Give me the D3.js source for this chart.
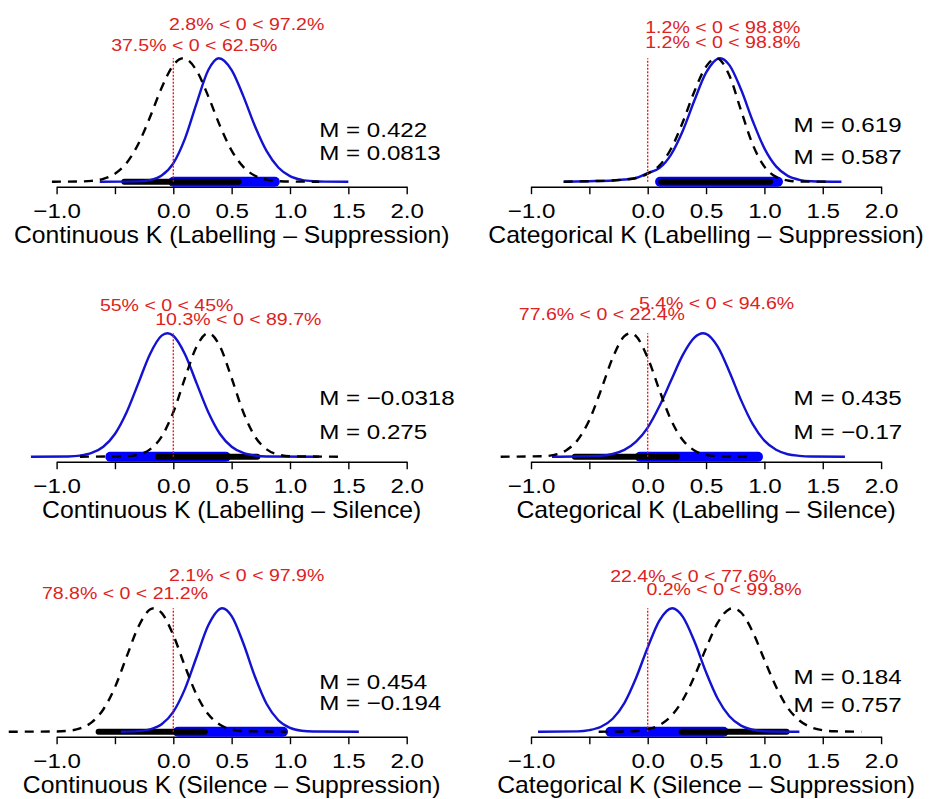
<!DOCTYPE html>
<html>
<head>
<meta charset="utf-8">
<script src="https://cdn.jsdelivr.net/npm/d3@7"></script>
<style>
  body { margin: 0; background: #fff; }
  svg text { font-family: "Liberation Sans", Arial, Helvetica, sans-serif; }
</style>
</head>
<body>
<div id="container"></div>
<script>
const panelTitles = [
    "Continuous K (Labelling \u2013 Suppression)",
    "Categorical K (Labelling \u2013 Suppression)",
    "Continuous K (Labelling \u2013 Silence)",
    "Categorical K (Labelling \u2013 Silence)",
    "Continuous K (Silence \u2013 Suppression)",
    "Categorical K (Silence \u2013 Suppression)"
];

// posterior means (blue = solid, black = dashed)
const meanBlue = [0.422, 0.619, -0.0318, 0.435, 0.454, 0.184];
const meanBlack = [0.0813, 0.587, 0.275, -0.17, -0.194, 0.757];

// % of posterior below zero
const belowBlue = [2.8, 1.2, 55, 5.4, 2.1, 22.4];
const belowBlack = [37.5, 1.2, 10.3, 77.6, 78.8, 0.2];

// 95% HDI
const hdiBlue = [[0.0, 0.87], [0.106, 1.116], [-0.54, 0.45], [-0.066, 0.945], [0.04, 0.94], [-0.32, 0.65]];
const hdiBlack = [[-0.42, 0.56], [0.116, 1.048], [-0.13, 0.72], [-0.624, 0.25], [-0.64, 0.27], [0.29, 1.19]];

// density curves, [x, relative height]
const densBlue = [
    [[-0.63,0],[-0.3,0.003],[-0.2,0.013],[-0.1,0.05],[0,0.149],[0.1,0.349],[0.2,0.636],[0.3,0.904],[0.39,1],[0.5,0.904],[0.6,0.693],[0.7,0.449],[0.8,0.247],[0.9,0.115],[1.0,0.045],[1.1,0.015],[1.2,0.004],[1.3,0.001],[1.5,0]],
    [[-0.72,0],[-0.5,0.004],[-0.3,0.01],[-0.2,0.018],[-0.1,0.03],[0,0.07],[0.1,0.11],[0.2,0.22],[0.3,0.411],[0.4,0.657],[0.5,0.8825],[0.62,1],[0.7,0.944],[0.8,0.746],[0.9,0.492],[1.0,0.27],[1.1,0.124],[1.2,0.047],[1.3,0.015],[1.4,0.004],[1.66,0]],
    [[-1.22,0],[-0.9,0.002],[-0.8,0.009],[-0.7,0.03],[-0.6,0.081],[-0.5,0.184],[-0.4,0.36],[-0.3,0.594],[-0.2,0.83],[-0.1,0.98],[-0.05,1],[0,0.979],[0.1,0.83],[0.2,0.594],[0.3,0.36],[0.4,0.184],[0.5,0.081],[0.6,0.03],[0.7,0.009],[0.8,0.002],[1.25,0]],
    [[-0.82,0],[-0.4,0.008],[-0.3,0.022],[-0.2,0.055],[-0.1,0.122],[0,0.236],[0.1,0.408],[0.2,0.617],[0.3,0.823],[0.4,0.965],[0.475,1],[0.5,0.995],[0.6,0.891],[0.7,0.688],[0.8,0.458],[0.9,0.263],[1.0,0.13],[1.1,0.056],[1.2,0.02],[1.3,0.007],[1.4,0.002],[1.69,0]],
    [[-0.45,0],[-0.3,0.005],[-0.2,0.019],[-0.1,0.061],[0,0.161],[0.1,0.347],[0.2,0.607],[0.3,0.862],[0.42,1],[0.5,0.936],[0.6,0.716],[0.7,0.445],[0.8,0.224],[0.9,0.093],[1.0,0.031],[1.1,0.008],[1.2,0.002],[1.59,0]],
    [[-0.94,0],[-0.6,0.003],[-0.5,0.013],[-0.4,0.04],[-0.3,0.105],[-0.2,0.232],[-0.1,0.435],[0,0.682],[0.1,0.9],[0.21,1],[0.3,0.932],[0.4,0.732],[0.5,0.482],[0.6,0.267],[0.7,0.125],[0.8,0.049],[0.9,0.016],[1.0,0.004],[1.3,0]]
];
const densBlack = [
    [[-1.04,0],[-0.8,0.002],[-0.7,0.007],[-0.6,0.023],[-0.5,0.065],[-0.4,0.152],[-0.3,0.305],[-0.2,0.522],[-0.1,0.76],[0,0.944],[0.085,1],[0.2,0.899],[0.3,0.691],[0.4,0.452],[0.5,0.252],[0.6,0.12],[0.7,0.048],[0.8,0.017],[0.9,0.005],[1.0,0.001],[1.25,0]],
    [[-0.72,0],[-0.5,0.004],[-0.3,0.01],[-0.2,0.018],[-0.1,0.03],[0,0.065],[0.1,0.13],[0.2,0.267],[0.3,0.481],[0.4,0.731],[0.5,0.932],[0.59,1],[0.7,0.86],[0.8,0.576],[0.9,0.301],[1.0,0.122],[1.1,0.039],[1.2,0.01],[1.3,0.002],[1.55,0]],
    [[-0.8,0],[-0.4,0.004],[-0.3,0.017],[-0.2,0.059],[-0.1,0.163],[0,0.36],[0.1,0.636],[0.2,0.893],[0.3,1],[0.4,0.893],[0.5,0.636],[0.6,0.36],[0.7,0.163],[0.8,0.059],[0.9,0.017],[1.0,0.004],[1.44,0]],
    [[-1.26,0],[-0.9,0.004],[-0.8,0.015],[-0.7,0.051],[-0.6,0.135],[-0.5,0.297],[-0.4,0.54],[-0.3,0.801],[-0.2,0.976],[-0.15,1],[-0.1,0.976],[0,0.801],[0.1,0.54],[0.2,0.297],[0.3,0.135],[0.4,0.051],[0.5,0.015],[0.6,0.004],[0.89,0]],
    [[-1.41,0],[-1.0,0.002],[-0.9,0.007],[-0.8,0.026],[-0.7,0.075],[-0.6,0.18],[-0.5,0.36],[-0.4,0.607],[-0.3,0.848],[-0.2,0.989],[-0.165,1],[-0.1,0.962],[0,0.782],[0.1,0.53],[0.2,0.299],[0.3,0.141],[0.4,0.056],[0.5,0.018],[0.6,0.005],[0.97,0]],
    [[-0.42,0],[-0.2,0.002],[-0.1,0.006],[0,0.019],[0.1,0.053],[0.2,0.125],[0.3,0.256],[0.4,0.447],[0.5,0.676],[0.6,0.8825],[0.7,0.993],[0.73,1],[0.8,0.965],[0.9,0.808],[1.0,0.582],[1.1,0.364],[1.2,0.194],[1.3,0.091],[1.4,0.036],[1.5,0.012],[1.6,0.004],[1.83,0]]
];

const tickValues = [-1, -0.5, 0, 0.5, 1, 1.5, 2];

// layout (pixels)
const colZero = [173.3, 647.7];
const unit = 116.7;
const rowBase = [181.7, 456.7, 731.7];
const peakH = 123.5;
const stretch = 1.15;
// where the red labels sit: [blue x, blue dy, black x, black dy]
const labelPos = [
    [0.629, -152, 0.179, -131],
    [0.644, -149, 0.644, -134],
    [-0.057, -146, 0.557, -132],
    [0.59, -148, -0.393, -137],
    [0.629, -151, -0.414, -133],
    [0.39, -150, 0.654, -137]
];
const mTextDy = [[-45, -22], [-50, -18], [-52, -18], [-52, -18], [-43, -22], [-48, -20]];

const svg = d3.select("#container").append("svg")
    .attr("width", 929)
    .attr("height", 799);

const fmtM = v => String(v).replace("-", "\u2212");
const pctLabel = p => `${p}% < 0 < ${Math.round((100 - p) * 10) / 10}%`;

function addText(g, x, y, txt, size, anchor, fill, sx = stretch) {
    return g.append("text")
        .attr("transform", `translate(${x},${y}) scale(${sx},1)`)
        .attr("text-anchor", anchor)
        .attr("font-size", size)
        .attr("fill", fill)
        .text(txt);
}

panelTitles.forEach((title, i) => {
    const col = i % 2, row = Math.floor(i / 2);
    const base = rowBase[row];
    const x = d3.scaleLinear().domain([-1, 2]).range([colZero[col] - unit, colZero[col] + 2 * unit]);
    const y = d3.scaleLinear().domain([0, 1]).range([base, base - peakH]);
    const g = svg.append("g");

    // axis
    const axis = d3.axisBottom(x)
        .tickValues(tickValues)
        .tickSize(7.5)
        .tickSizeOuter(0)
        .tickFormat(d => d === -0.5 ? "" : d3.format(".1f")(d));
    const ax = g.append("g")
        .attr("transform", `translate(0,${base + 5})`)
        .call(axis);
    ax.select(".domain").attr("stroke-width", 1.4);
    ax.selectAll(".tick line").attr("stroke-width", 1.4);
    ax.selectAll(".tick text")
        .attr("y", 31).attr("dy", null)
        .attr("font-size", 21)
        .attr("font-family", "Liberation Sans, Arial, sans-serif")
        .attr("fill", "#000")
        .attr("transform", `scale(${stretch},1)`);

    addText(g, x(0.5), base + 61, title, 24, "middle", "#000", 1.03);

    // HDI bars
    const bar = (iv, color, w) => g.append("line")
        .attr("x1", x(iv[0])).attr("x2", x(iv[1]))
        .attr("y1", base).attr("y2", base)
        .attr("stroke", color).attr("stroke-width", w)
        .attr("stroke-linecap", "round");
    bar(hdiBlue[i], "#0000ff", 10);
    bar(hdiBlack[i], "#000", 6);

    // densities
    const line = d3.line()
        .x(d => x(d[0]))
        .y(d => y(d[1]))
        .curve(d3.curveMonotoneX);
    g.append("path")
        .attr("d", line(densBlue[i]))
        .attr("fill", "none")
        .attr("stroke", "#1212d0")
        .attr("stroke-width", 2.4);
    g.append("path")
        .attr("d", line(densBlack[i]))
        .attr("fill", "none")
        .attr("stroke", "#000")
        .attr("stroke-width", 2.4)
        .attr("stroke-dasharray", "9,7");

    // zero line
    g.append("line")
        .attr("x1", x(0)).attr("x2", x(0))
        .attr("y1", y(0)).attr("y2", y(1))
        .attr("stroke", "#ee1111")
        .attr("stroke-width", 1.3)
        .attr("stroke-dasharray", "2,1.5");

    // labels
    const lp = labelPos[i];
    addText(g, x(lp[0]), base + lp[1], pctLabel(belowBlue[i]), 17, "middle", "#dd2222");
    addText(g, x(lp[2]), base + lp[3], pctLabel(belowBlack[i]), 17, "middle", "#dd2222");

    addText(g, x(1.25), base + mTextDy[i][0], "M = " + fmtM(meanBlue[i]), 21, "start", "#000");
    addText(g, x(1.25), base + mTextDy[i][1], "M = " + fmtM(meanBlack[i]), 21, "start", "#000");
});
</script>
</body>
</html>
